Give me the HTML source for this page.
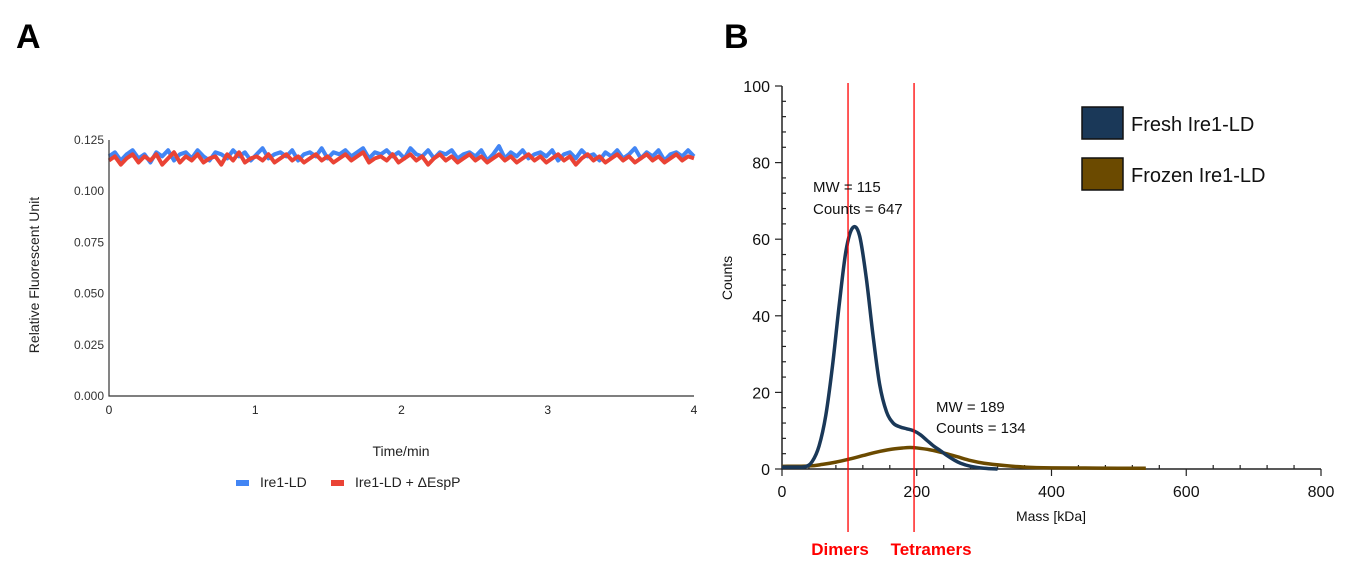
<!DOCTYPE html>
<html><head><meta charset="utf-8"><style>
body{margin:0;background:#fff;width:1345px;height:580px;overflow:hidden;font-family:"Liberation Sans",Arial,sans-serif}
svg text{font-family:"Liberation Sans",Arial,sans-serif}
</style></head><body>
<svg id="s" width="1345" height="580">
<text x="16" y="48" font-size="34" font-weight="bold">A</text>
<text x="724" y="48" font-size="34" font-weight="bold">B</text>
<g id="ga"></g>
<g id="gb"></g>
</svg>
<script>
// ---- Chart A data ----
const aTicksY=[0,0.025,0.05,0.075,0.1,0.125];
const aTicksYLabels=["0.000","0.025","0.050","0.075","0.100","0.125"];
const aTicksX=[0,1,2,3,4];
const blueVals=[0.117,0.119,0.115,0.118,0.120,0.116,0.118,0.114,0.119,0.117,0.120,0.115,0.118,0.119,0.116,0.120,0.117,0.115,0.119,0.118,0.116,0.120,0.117,0.119,0.115,0.118,0.121,0.116,0.118,0.119,0.117,0.120,0.115,0.118,0.119,0.117,0.121,0.116,0.119,0.118,0.120,0.117,0.119,0.121,0.116,0.119,0.118,0.120,0.117,0.119,0.116,0.121,0.118,0.117,0.120,0.116,0.119,0.118,0.120,0.116,0.118,0.119,0.117,0.120,0.115,0.118,0.122,0.116,0.119,0.117,0.120,0.116,0.118,0.119,0.117,0.120,0.115,0.118,0.119,0.116,0.120,0.117,0.118,0.115,0.119,0.117,0.120,0.116,0.118,0.121,0.116,0.119,0.117,0.120,0.115,0.118,0.119,0.117,0.120,0.117];
const redVals=[0.115,0.117,0.113,0.116,0.118,0.114,0.117,0.115,0.118,0.113,0.116,0.119,0.114,0.117,0.115,0.118,0.114,0.116,0.117,0.113,0.118,0.115,0.119,0.114,0.116,0.117,0.115,0.118,0.114,0.116,0.118,0.115,0.117,0.114,0.116,0.118,0.115,0.117,0.114,0.116,0.118,0.115,0.117,0.119,0.114,0.116,0.117,0.115,0.118,0.114,0.116,0.118,0.115,0.117,0.113,0.116,0.118,0.115,0.117,0.114,0.116,0.118,0.115,0.117,0.114,0.116,0.118,0.115,0.117,0.114,0.116,0.118,0.115,0.117,0.114,0.116,0.118,0.115,0.117,0.113,0.116,0.118,0.115,0.117,0.114,0.116,0.118,0.115,0.117,0.114,0.116,0.118,0.115,0.117,0.114,0.116,0.118,0.115,0.117,0.116];
// ---- Chart B data ----
const bTicksX=[0,200,400,600,800];
const bTicksY=[0,20,40,60,80,100];
const freshMass=[0,20,35,45,55,65,75,85,95,105,115,125,135,145,155,165,175,185,195,205,215,225,235,245,255,265,280,300,320];
const freshCounts=[0.5,0.5,0.6,2,6,14,27,43,57,63,61,50,35,22,15,12,11,10.5,10,9,7.5,6,4.8,3.5,2.4,1.5,0.7,0.2,0];
const frozenMass=[0,40,60,80,100,120,140,160,180,190,200,220,240,260,280,300,330,360,400,450,500,540];
const frozenCounts=[0.7,0.8,1.2,1.8,2.6,3.5,4.4,5.1,5.5,5.6,5.5,5,4.2,3.2,2.2,1.5,0.9,0.5,0.3,0.25,0.2,0.2];
const markerMass=[98,196];
const markerLabels=["Dimers","Tetramers"];

const NS="http://www.w3.org/2000/svg";
function mk(p,t,a){const e=document.createElementNS(NS,t);for(const k in a)e.setAttribute(k,a[k]);p.appendChild(e);return e;}
const ga=document.getElementById('ga'),gb=document.getElementById('gb');

// Chart A
const ax=v=>109+v/4*585, ay=v=>396-v/0.125*256;
aTicksY.forEach((v,i)=>{const t=mk(ga,'text',{x:104,y:ay(v)+4,'font-size':12,'text-anchor':'end',fill:'#333'});t.textContent=aTicksYLabels[i];

});
aTicksX.forEach(v=>{const t=mk(ga,'text',{x:ax(v),y:414,'font-size':12,'text-anchor':'middle',fill:'#222'});t.textContent=v;

});
function noisy(vals,col,nm,w){let d='';vals.forEach((v,i)=>{d+=(i?'L':'M')+ax(i/(vals.length-1)*4).toFixed(1)+','+ay(v).toFixed(1);});
const p=mk(ga,'path',{d:d,fill:'none',stroke:col,'stroke-width':w,'stroke-linejoin':'round'});

}
noisy(blueVals,'#4285f4','series-ire1-ld',4);
noisy(redVals,'#ea4335','series-ire1-ld-espp',4);
let l=mk(ga,'path',{d:'M109,140V396H694',fill:'none',stroke:'#333','stroke-width':1.2});


let t=mk(ga,'text',{x:0,y:0,'font-size':14,'text-anchor':'middle',fill:'#222',transform:'translate(39,275) rotate(-90)'});t.textContent='Relative Fluorescent Unit';


t=mk(ga,'text',{x:401,y:456,'font-size':14,'text-anchor':'middle',fill:'#222'});t.textContent='Time/min';


[['#4285f4','Ire1-LD',236],['#ea4335','Ire1-LD + ΔEspP',331]].forEach(([c,s,x])=>{
const r=mk(ga,'rect',{x:x,y:480,width:13,height:6,fill:c});
const tt=mk(ga,'text',{x:x+24,y:487,'font-size':14,fill:'#222'});tt.textContent=s;});

// Chart B
const bx=v=>782+v*539/800, by=v=>469-v*3.83;
for(let v=0;v<=800;v+=40){const big=v%200==0;mk(gb,'line',{x1:bx(v),x2:bx(v),y1:469,y2:big?476:465,stroke:'#222','stroke-width':1.2});}
for(let v=0;v<=100;v+=4){const big=v%20==0;mk(gb,'line',{x1:big?775:782,x2:big?782:786,y1:by(v),y2:by(v),stroke:'#222','stroke-width':1.2});}
bTicksX.forEach(v=>{const e=mk(gb,'text',{x:bx(v),y:497,'font-size':16,'text-anchor':'middle',fill:'#111'});e.textContent=v;

});
bTicksY.forEach(v=>{const e=mk(gb,'text',{x:770,y:by(v)+6,'font-size':16,'text-anchor':'end',fill:'#111'});e.textContent=v;

});
l=mk(gb,'path',{d:'M782,86V469H1321',fill:'none',stroke:'#222','stroke-width':1.5});


function smooth(xs,ys){const P=xs.map((x,i)=>[bx(x),by(ys[i])]);let d='M'+P[0];for(let i=0;i<P.length-1;i++){const p0=P[i-1]||P[i],p1=P[i],p2=P[i+1],p3=P[i+2]||p2;
d+='C'+(p1[0]+(p2[0]-p0[0])/6)+','+(p1[1]+(p2[1]-p0[1])/6)+' '+(p2[0]-(p3[0]-p1[0])/6)+','+(p2[1]-(p3[1]-p1[1])/6)+' '+p2;}return d;}
let c=mk(gb,'path',{d:smooth(frozenMass,frozenCounts),fill:'none',stroke:'#6b4a00','stroke-width':3.5});


c=mk(gb,'path',{d:smooth(freshMass,freshCounts),fill:'none',stroke:'#1a3858','stroke-width':3.5});


markerMass.forEach((m,i)=>{const ln=mk(gb,'line',{x1:bx(m),x2:bx(m),y1:83,y2:532,stroke:'#f00','stroke-width':1.3});


const e=mk(gb,'text',{x:i==0?bx(m)-8:bx(m)+17,y:555,'font-size':17,'font-weight':'bold','text-anchor':'middle',fill:'#f00'});e.textContent=markerLabels[i];

});
[['MW = 115',813,192],['Counts = 647',813,214],['MW = 189',936,412],['Counts = 134',936,433]].forEach(([s,x,y])=>{const e=mk(gb,'text',{x:x,y:y,'font-size':15,fill:'#111'});e.textContent=s;

});
t=mk(gb,'text',{x:0,y:0,'font-size':14,'text-anchor':'middle',fill:'#111',transform:'translate(732,278) rotate(-90)'});t.textContent='Counts';


t=mk(gb,'text',{x:1051,y:521,'font-size':14,'text-anchor':'middle',fill:'#111'});t.textContent='Mass [kDa]';


[['#1a3858','Fresh Ire1-LD',107],['#6b4a00','Frozen Ire1-LD',158]].forEach(([cl,s,y])=>{
const r=mk(gb,'rect',{x:1082,y:y,width:41,height:32,fill:cl,stroke:'#111','stroke-width':1.5});
const e=mk(gb,'text',{x:1131,y:y+24,'font-size':20,fill:'#111'});e.textContent=s;});
</script>
</body></html>
